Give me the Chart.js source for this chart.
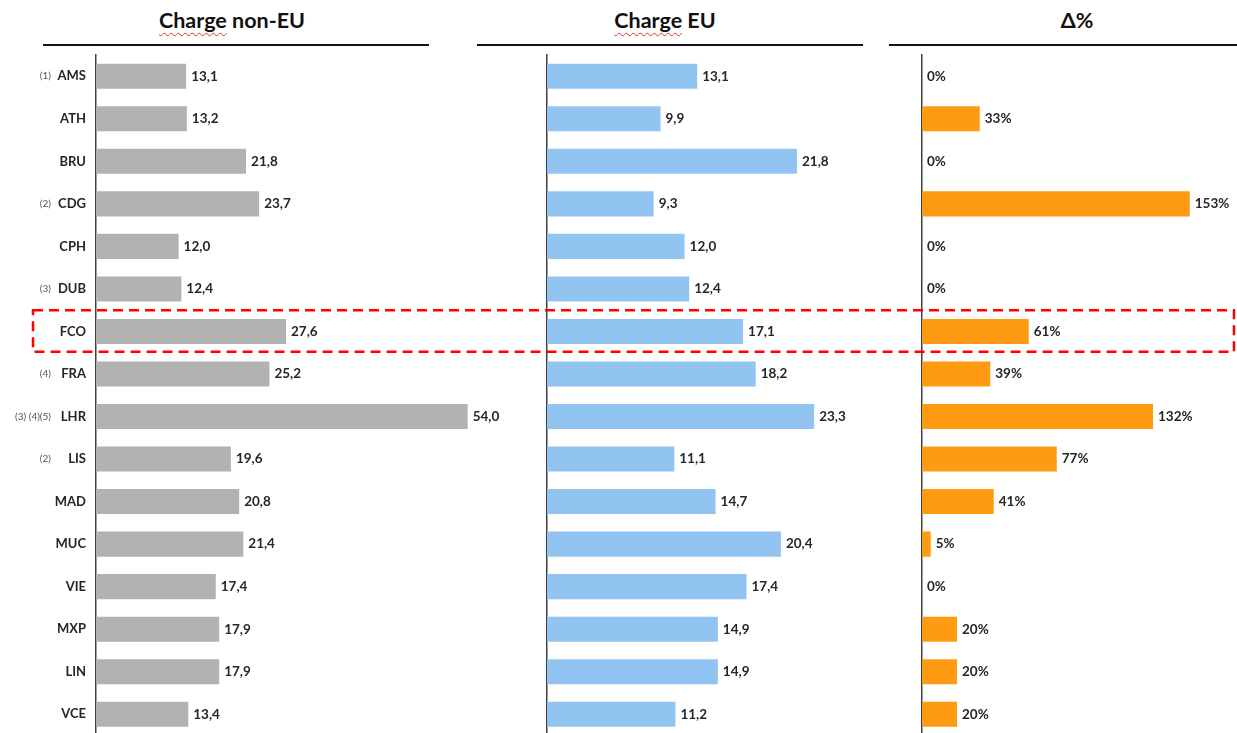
<!DOCTYPE html>
<html>
<head>
<meta charset="utf-8">
<script src="https://cdn.jsdelivr.net/npm/chart.js@4/dist/chart.umd.min.js"></script>
<style>
  html, body { margin:0; padding:0; width:1237px; height:733px; overflow:hidden; background:#fff; font-family: Lato, "Open Sans", sans-serif; }
  canvas { position:absolute; top:0; }
  .title { position:absolute; top:7px; font: bold 21.5px Lato, sans-serif; color:#111; transform:translateX(-50%); white-space:nowrap; }
  .sq { text-decoration: underline wavy #e03030; text-decoration-thickness: 1px; text-underline-offset: 4px; }
  .rule { position:absolute; top:44px; height:2px; background:#111; }
</style>
</head>
<body>
<div class="title" style="left:232px"><span class="sq">Charge</span> non-EU</div>
<div class="title" style="left:665px"><span class="sq">Charge</span> EU</div>
<div class="title" style="left:1077px">Δ%</div>
<div class="rule" style="left:43px;width:386px"></div>
<div class="rule" style="left:477px;width:386px"></div>
<div class="rule" style="left:889px;width:348px"></div>

<canvas id="c1" width="521" height="760" style="left:0px"></canvas>
<canvas id="c2" width="366" height="760" style="left:537px"></canvas>
<canvas id="c3" width="325" height="760" style="left:912px"></canvas>
<canvas id="ov" width="1237" height="733" style="left:0px;pointer-events:none"></canvas>

<script>
const categories = ['AMS','ATH','BRU','CDG','CPH','DUB','FCO','FRA','LHR','LIS','MAD','MUC','VIE','MXP','LIN','VCE'];
const footnotes = ['(1)','','','(2)','','(3)','','(4)','(3) (4)(5)','(2)','','','','','',''];
const chargeNonEU = [13.1,13.2,21.8,23.7,12.0,12.4,27.6,25.2,54.0,19.6,20.8,21.4,17.4,17.9,17.9,13.4];
const chargeEU = [13.1,9.9,21.8,9.3,12.0,12.4,17.1,18.2,23.3,11.1,14.7,20.4,17.4,14.9,14.9,11.2];
const deltaPct = [0,33,0,153,0,0,61,39,132,77,41,5,0,20,20,20];
const highlightIndex = 6;

const FONT = 'Lato, "Open Sans", sans-serif';

const valueLabels = {
  id: 'valueLabels',
  afterDatasetsDraw(chart, args, opts) {
    const ctx = chart.ctx;
    const meta = chart.getDatasetMeta(0);
    const vals = chart.data.datasets[0].data;
    ctx.save();
    ctx.font = 'bold 13.5px ' + FONT;
    ctx.fillStyle = '#262626';
    ctx.textBaseline = 'middle';
    ctx.textAlign = 'left';
    meta.data.forEach((bar, i) => {
      ctx.fillText(opts.fmt(vals[i]), bar.x + 5, bar.y);
    });
    ctx.restore();
  }
};

const footnotePlugin = {
  id: 'footnotePlugin',
  afterDraw(chart, args, opts) {
    if (!opts.enabled) return;
    const ctx = chart.ctx;
    const y = chart.scales.y;
    ctx.save();
    ctx.font = '10px ' + FONT;
    ctx.fillStyle = '#555';
    ctx.textAlign = 'right';
    ctx.textBaseline = 'middle';
    footnotes.forEach((f, i) => {
      if (f) ctx.fillText(f, 51, y.getPixelForValue(i));
    });
    ctx.restore();
  }
};

function makeChart(id, values, color, max, yWidth, padRight, showTicks, fmt) {
  return new Chart(document.getElementById(id), {
    type: 'bar',
    data: { labels: categories, datasets: [{ data: values, backgroundColor: color, borderWidth: 0,
      categoryPercentage: 1.0, barPercentage: 0.59 }] },
    options: {
      responsive: false,
      animation: false,
      indexAxis: 'y',
      layout: { padding: { top: 55, bottom: 24.5, left: 0, right: padRight } },
      plugins: { legend: { display: false }, tooltip: { enabled: false },
        valueLabels: { fmt }, footnotePlugin: { enabled: showTicks } },
      scales: {
        x: { display: false, min: 0, max: max },
        y: {
          grid: { display: false, drawTicks: false },
          border: { display: true, color: '#404040', width: 1.5 },
          ticks: { display: showTicks, padding: 10, color: '#262626', font: { family: FONT, size: 13, weight: 'bold' } },
          afterFit(s) { s.width = yWidth; }
        }
      }
    },
    plugins: [valueLabels, footnotePlugin]
  });
}

const fmtDec = v => v.toFixed(1).replace('.', ',');
const fmtPct = v => v + '%';

const ch1 = makeChart('c1', chargeNonEU, '#b2b2b2', 60, 96, 12, true, fmtDec);
const ch2 = makeChart('c2', chargeEU, '#92c4f2', 30, 10, 12, false, fmtDec);
const ch3 = makeChart('c3', deltaPct, '#ff9a13', 170, 10, 17.5, false, fmtPct);

// Highlight box around the FCO row
const ov = document.getElementById('ov').getContext('2d');
const ys = ch1.scales.y;
const cy = ys.getPixelForValue(highlightIndex);
const half = (ys.getPixelForValue(1) - ys.getPixelForValue(0)) / 2;
ov.strokeStyle = '#ff0000';
ov.lineWidth = 2.5;
ov.setLineDash([10, 6]);
ov.strokeRect(33, cy - half, 1234 - 33, 2 * half - 1);
</script>
</body>
</html>
